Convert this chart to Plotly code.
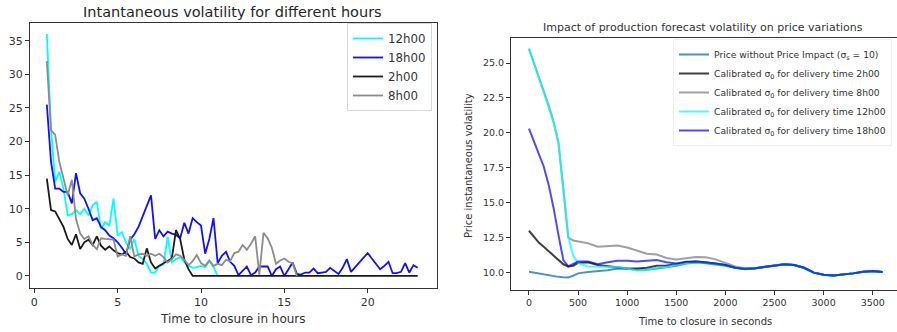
import plotly.graph_objects as go

W, H = 897, 332

# ---------------- Left chart data (hours to closure, step 0.25 h) ----------------
hours_grid = [0.75 + 0.25 * i for i in range(90)]

vol_12h = [36, 22, 14, 15.5, 13, 9, 9.2, 9.8, 9.2, 10, 9, 10.5, 11, 7, 8, 7.5, 11.5, 6, 6.5, 5,
           4, 5.5, 3, 2.5, 1.8, 0.5, 0.5, 1.5, 1.7, 5.8, 2, 2.5, 2.8, 2, 1.5, 1.2, 1.3, 1.5, 1.3, 2.2,
           1.3, 0]

vol_18h = [25.5, 17, 13, 13, 12.5, 12.5, 10.8, 15.3, 12.3, 11.5, 10, 8.3, 8.6, 7.3, 6.8, 6, 5.6, 5, 4.2, 3.3,
           5.4, 6.2, 7.3, 8.8, 10.3, 12, 5.5, 6.8, 5.9, 6.6, 6.3, 6.1, 5.6, 7.9, 6.3, 8.6, 8, 7.5, 3.3, 5.5,
           8.6, 1.9, 3, 3.6, 2.1, 1.5, 0.1, 0.8, 1.4, 0.1, 0.5, 1.4, 1.4, 1.4, 0, 1, 1.4, 0, 1, 2.0,
           0.3, 0.2, 0.5, 0.5, 1.1, 0.4, 0.5, 0.6, 1.2, 0.8, 0.3, 1.2, 2.5, 0.6, 1.3, 1.9, 2.6, 3.4, 2.6, 1.8,
           1.0, 1.5, 2.1, 0.4, 0.4, 0.6, 1.9, 0.5, 1.6, 1.2]

vol_2h = [14.5, 9.8, 9.6, 8.5, 7.3, 5.5, 4.6, 6.2, 4, 5, 5.4, 4.6, 5.9, 4.5, 3.9, 4.4, 3.8, 3.4, 3.2, 3.6,
          2.8, 2.6, 2, 1.8, 4.1, 2, 1.1, 1.5, 1.9, 2.3, 2.6, 6.8, 5.5, 2.4, 1, 0,
          0, 0, 0, 0, 0, 0, 0, 0, 0, 0, 0, 0, 0, 0, 0, 0, 0, 0, 0, 0, 0, 0, 0, 0,
          0, 0, 0, 0, 0, 0, 0, 0, 0, 0, 0, 0, 0, 0, 0, 0, 0, 0, 0, 0, 0, 0, 0, 0,
          0, 0, 0, 0, 0, 0]

vol_8h = [32, 21.7, 21, 17, 14.5, 12, 14.3, 8.5, 6.3, 5.5, 5.9, 4.6, 4, 5.6, 5.5, 5.5, 5.4, 2.9, 3.2, 3,
          5.9, 2.9, 3.2, 3.3, 3, 3.3, 3, 3.3, 2.8, 2, 2.5, 3.2, 3, 2.4, 1.6, 2.2, 3.1, 1.9, 1.5, 2.3,
          1.5, 1.8, 1.6, 2.4, 2.2, 3.4, 3.6, 4.6, 3.9, 4.8, 5.9, 0.2, 6.4, 5.6, 4.2, 1.8, 2.3, 2.6, 2.1, 1.9,
          0]

left_names = ["12h00", "18h00", "2h00", "8h00"]
left_series = [vol_12h, vol_18h, vol_2h, vol_8h]
left_colors = ["#00ffff", "#1010ff", "#1a1a1a", "#8c8c8c"]

# ---------------- Right chart data (seconds to closure) ----------------
seconds = [0, 50, 100, 150, 200, 250, 300, 350, 400, 450, 500, 600, 700, 800, 900, 1000, 1100, 1200,
           1300, 1400, 1500, 1600, 1700, 1800, 1900, 2000, 2100, 2200, 2300, 2400, 2500, 2600, 2700,
           2800, 2900, 3000, 3100, 3200, 3300, 3400, 3500, 3600]

no_impact = [10.07, 10.0, 9.94, 9.87, 9.81, 9.75, 9.7, 9.67, 9.66, 9.78, 9.95, 10.05, 10.1, 10.18, 10.3,
             10.28, 10.2, 10.2, 10.3, 10.38, 10.5, 10.65, 10.72, 10.68, 10.6, 10.5, 10.35, 10.25, 10.3,
             10.4, 10.5, 10.58, 10.55, 10.35, 10.0, 9.85, 9.8, 9.85, 9.95, 10.05, 10.1, 10.05]

calib_2h = [13.0, 12.55, 12.15, 11.85, 11.55, 11.25, 10.95, 10.6, 10.45, 10.5, 10.7, 10.75, 10.55, 10.45,
            10.4, 10.3, 10.3, 10.35, 10.5, 10.52, 10.6, 10.75, 10.8, 10.75, 10.65, 10.55, 10.35, 10.28,
            10.32, 10.42, 10.5, 10.6, 10.55, 10.35, 10.0, 9.85, 9.8, 9.85, 9.95, 10.07, 10.12, 10.05]

calib_8h = [26.0, 25.0, 24.0, 23.0, 22.0, 20.8, 19.3, 16.0, 12.5, 12.3, 12.25, 12.1, 11.85, 11.9, 11.95,
            11.8, 11.55, 11.35, 11.3, 11.05, 10.95, 11.05, 11.12, 11.1, 10.95, 10.7, 10.45, 10.3,
            10.32, 10.42, 10.5, 10.6, 10.55, 10.35, 10.0, 9.85, 9.8, 9.85, 9.95, 10.07, 10.12, 10.05]

calib_12h = [26.05, 25.0, 24.0, 23.0, 22.0, 20.8, 19.3, 16.0, 12.6, 11.2, 10.7, 10.45, 10.45, 10.45,
             10.4, 10.3, 10.15, 10.2, 10.35, 10.4, 10.55, 10.7, 10.75, 10.72, 10.62, 10.52, 10.35,
             10.28, 10.32, 10.42, 10.5, 10.6, 10.55, 10.35, 10.0, 9.85, 9.8, 9.85, 9.95, 10.07, 10.12,
             10.05]

calib_18h = [20.3, 19.4, 18.5, 17.6, 16.3, 14.65, 12.7, 10.9, 10.45, 10.65, 10.8, 10.8, 10.6, 10.75,
             10.85, 10.85, 10.8, 10.85, 10.9, 10.75, 10.65, 10.78, 10.8, 10.75, 10.65, 10.55, 10.35,
             10.28, 10.32, 10.42, 10.5, 10.6, 10.55, 10.35, 10.0, 9.85, 9.8, 9.85, 9.95, 10.07, 10.12,
             10.05]

right_names = ["Price without Price Impact (σ<sub>s</sub> = 10)",
               "Calibrated σ<sub>0</sub> for delivery time 2h00",
               "Calibrated σ<sub>0</sub> for delivery time 8h00",
               "Calibrated σ<sub>0</sub> for delivery time 12h00",
               "Calibrated σ<sub>0</sub> for delivery time 18h00"]
right_series = [no_impact, calib_2h, calib_8h, calib_12h, calib_18h]
right_colors = ["rgba(31,119,180,0.8)", "rgba(0,0,0,0.75)", "rgba(128,128,128,0.75)",
                "rgba(0,255,255,0.75)", "rgba(0,0,255,0.7)"]

left_xticks = [0, 5, 10, 15, 20]
left_yticks = [0, 5, 10, 15, 20, 25, 30, 35]
right_xticks = [0, 500, 1000, 1500, 2000, 2500, 3000, 3500]
right_yticks = [10.0, 12.5, 15.0, 17.5, 20.0, 22.5, 25.0]

FONT = "DejaVu Sans"
fig = go.Figure()

for name, ys, col in zip(left_names, left_series, left_colors):
    fig.add_trace(go.Scatter(x=hours_grid[:len(ys)], y=ys, mode="lines", name=name,
                             line=dict(color=col, width=1.8), xaxis="x", yaxis="y",
                             legend="legend"))

for name, ys, col in zip(right_names, right_series, right_colors):
    fig.add_trace(go.Scatter(x=seconds, y=ys, mode="lines", name=name,
                             line=dict(color=col, width=2), xaxis="x2", yaxis="y2",
                             legend="legend2"))


def px_x(p):
    return p / W


def px_y(p):
    return 1 - p / H


axis_common = dict(showgrid=False, zeroline=False, showline=True, linecolor="#333333",
                   linewidth=1, ticks="outside", ticklen=4, tickcolor="#333333", tickwidth=1,
                   automargin=False)

fig.update_layout(
    width=W, height=H,
    margin=dict(l=0, r=0, t=0, b=0, autoexpand=False),
    paper_bgcolor="white", plot_bgcolor="white",
    font=dict(family=FONT, color="#333333"),
    xaxis=dict(domain=[px_x(30), px_x(437)], range=[-0.26, 24.16], anchor="y", mirror=True,
               tickvals=left_xticks, tickfont=dict(size=11, color="#333333"), **axis_common),
    yaxis=dict(domain=[px_y(288), px_y(23)], range=[-1.8, 37.65], anchor="x", mirror=True,
               tickvals=left_yticks, tickfont=dict(size=11, color="#333333"), **axis_common),
    xaxis2=dict(domain=[px_x(511), 1.0], range=[-183, 3747], anchor="y2", mirror=True,
                tickvals=right_xticks, tickfont=dict(size=9.5, color="#333333"), **axis_common),
    yaxis2=dict(domain=[px_y(290), px_y(38)], range=[8.76, 26.79], anchor="x2", mirror=False,
                tickvals=right_yticks, tickformat=".1f", tickfont=dict(size=9.5, color="#333333"),
                **axis_common),
    legend=dict(x=px_x(347), y=px_y(23), xanchor="left", yanchor="top",
                font=dict(size=11.8, color="#333333", family=FONT),
                bgcolor="rgba(255,255,255,0.8)", bordercolor="#d8d8d8", borderwidth=1,
                itemwidth=30, tracegroupgap=0),
    legend2=dict(x=px_x(673), y=px_y(39), xanchor="left", yanchor="top",
                 font=dict(size=9.2, color="#333333", family=FONT),
                 bgcolor="rgba(255,255,255,0.8)", bordercolor="#eeeeee", borderwidth=1,
                 itemwidth=30, tracegroupgap=0),
    showlegend=True,
)

annotations = [
    dict(text="Intantaneous volatility for different hours", x=px_x(232), y=px_y(12),
         font=dict(size=14.5, color="#262626")),
    dict(text="Time to closure in hours", x=px_x(233), y=px_y(319),
         font=dict(size=12, color="#333333")),
    dict(text="Impact of production forecast volatility on price variations", x=px_x(703),
         y=px_y(27), font=dict(size=11, color="#333333")),
    dict(text="Time to closure in seconds", x=px_x(705), y=px_y(321),
         font=dict(size=10, color="#333333")),
    dict(text="Price instantaneous volatility", x=px_x(468), y=px_y(166), textangle=-90,
         font=dict(size=10, color="#333333")),
]
for a in annotations:
    a.update(xref="paper", yref="paper", showarrow=False, xanchor="center", yanchor="middle")
    a["font"]["family"] = FONT
fig.update_layout(annotations=annotations)

fig.write_html("out.html", config={"displayModeBar": False},
               post_script="document.body.style.margin='0';document.body.style.overflow='hidden';")
